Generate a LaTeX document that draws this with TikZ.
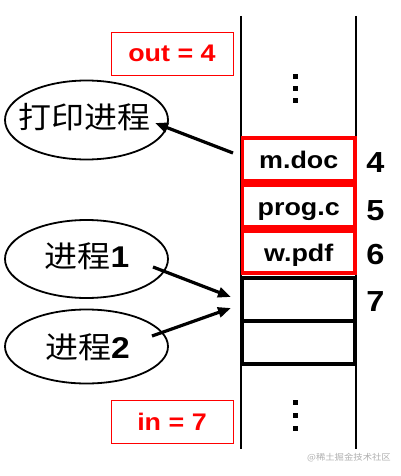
\documentclass[tikz,border=0pt]{standalone}
\usepackage{fontspec}
\setmainfont{Liberation Sans}[FakeStretch=1.12]
\newfontfamily\cjk{Noto Sans CJK SC}[FakeStretch=1.1]
\usetikzlibrary{arrows.meta,shapes.geometric}
\definecolor{wmgray}{RGB}{175,175,175}
\begin{document}
\begin{tikzpicture}[x=1pt,y=-1pt,
  cellbox/.style={draw, line width=3.6pt, minimum width=112.5pt, minimum height=43pt, inner sep=0pt,
     text height=18pt, text depth=0pt, font=\bfseries\fontsize{24}{24}\selectfont},
  redcell/.style={cellbox, draw=red},
  num/.style={inner sep=0pt, font=\bfseries\fontsize{29}{29}\selectfont},
  ptr/.style={draw=red, line width=0.8pt, minimum width=122pt, minimum height=43pt, inner sep=0pt,
     text=red, font=\bfseries\fontsize{24}{24}\selectfont},
  proc/.style={ellipse, draw, line width=1.8pt, minimum width=163pt, inner sep=0pt},
  ptext/.style={inner sep=0pt, font=\fontsize{30}{30}\selectfont},
  arr/.style={line width=3.2pt, -{Triangle[length=13pt,width=10pt]}},
  sq/.style={fill, minimum size=5pt, inner sep=0pt}
]
\useasboundingbox (0,0) rectangle (400,476);
% stack walls
\draw[line width=2.6pt] (241,16) -- (241,449);
\draw[line width=2.6pt] (356,16) -- (356,449);
% dots
\node[sq] (d1) at (295,77) {};
\node[sq] (d2) at (295,89) {};
\node[sq] (d3) at (295,101) {};
\node[sq] (d4) at (295,402) {};
\node[sq] (d5) at (295,415) {};
\node[sq] (d6) at (295,428) {};
% cells
\node[redcell] (c4) at (298.75,159.5) {m.doc};
\node[redcell, minimum height=42pt] (c5) at (298.75,206) {prog.c};
\node[redcell, minimum height=42pt] (c6) at (298.75,252) {w.pdf};
\node[cellbox] (c7) at (298.75,299.5) {};
\node[cellbox] (c8) at (298.75,342.5) {};
% numbers
\node[num] (n4) at (375.5,163) {4};
\node[num] (n5) at (375.5,211) {5};
\node[num] (n6) at (375.5,255) {6};
\node[num] (n7) at (375.5,302) {7};
% pointers
\node[ptr] (out) at (172,53.5) {out = 4};
\node[ptr] (in) at (172,422) {in = 7};
% processes
\node[proc, minimum height=79pt] (e0) at (86.5,120) {};
\node[ptext] (t0) at (84,117) {\cjk 打印进程};
\node[proc, minimum height=78pt] (e1) at (86.5,259) {};
\node[ptext] (t1) at (87,256) {\cjk 进程{\rmfamily\bfseries 1}};
\node[proc, minimum height=74pt] (e2) at (86.5,346.5) {};
\node[ptext] (t2) at (87.5,347.5) {\cjk 进程{\rmfamily\bfseries 2}};
% arrows
\coordinate (a0s) at (233,153);
\coordinate (a0e) at (155,123);
\coordinate (a1s) at (153,267);
\coordinate (a1e) at (231,297);
\coordinate (a2s) at (152,336);
\coordinate (a2e) at (231,308);
\draw[arr] (a0s) -- (a0e);
\draw[arr] (a1s) -- (a1e);
\draw[arr] (a2s) -- (a2e);
% watermark
\node[text=wmgray, inner sep=0pt, font=\cjk\fontsize{8.5}{8.5}\selectfont] (wm) at (349,458) {@稀土掘金技术社区};
\end{tikzpicture}
\end{document}
